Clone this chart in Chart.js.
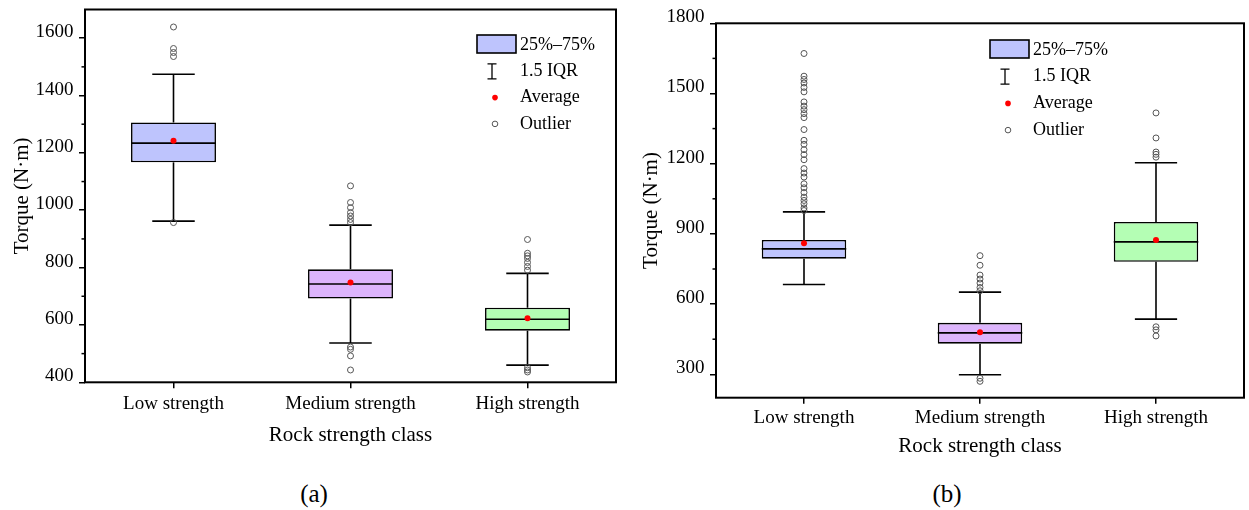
<!DOCTYPE html>
<html>
<head>
<meta charset="utf-8">
<script src="https://cdn.jsdelivr.net/npm/chart.js@4.4.0/dist/chart.umd.min.js"></script>
<style>
  body { margin: 0; background: #fff; width: 1249px; height: 510px; position: relative; overflow: hidden; font-family: 'Liberation Serif', serif; }
  .panel { position: absolute; top: 0; }
  .cap { position: absolute; top: 480px; font-size: 25px; transform: translateX(-50%); color: #000; }
</style>
</head>
<body>
<div class="panel" style="left:0"><canvas id="chartA" width="624" height="460"></canvas></div>
<div class="panel" style="left:624px"><canvas id="chartB" width="625" height="470"></canvas></div>
<div class="cap" style="left:314px">(a)</div>
<div class="cap" style="left:947px">(b)</div>

<script>
/* ---- data ---- */
const categories = ['Low strength', 'Medium strength', 'High strength'];
const boxColors  = ['#bec4fd', '#dcb4fc', '#b4feb4'];

// panel (a)
const aQ1     = [1167, 692, 580];
const aQ3     = [1306, 794, 660];
const aMedian = [1234, 743, 620];
const aMean   = [1242, 748, 623];
const aLowW   = [962, 537, 460];
const aHighW  = [1474, 948, 780];
const aOutliers = [
  [1639, 1564, 1550, 1536, 957],
  [1085, 1027, 1009, 992, 980, 968, 957, 523, 515, 492, 443],
  [898, 850, 841, 832, 818, 804, 791, 451, 443, 436]
];
const aTicks = [400, 600, 800, 1000, 1200, 1400, 1600];
const aMinor = [500, 700, 900, 1100, 1300, 1500];

// panel (b)
const bQ1     = [794, 431, 781];
const bQ3     = [874, 520, 951];
const bMedian = [836, 477, 866];
const bMean   = [860, 480, 874];
const bLowW   = [684, 298, 536];
const bHighW  = [994, 651, 1204];
const bOutliers = [
  [1671, 1574, 1560, 1545, 1526, 1507, 1464, 1446, 1431, 1414, 1397, 1346, 1300, 1283,
   1260, 1239, 1217, 1179, 1160, 1143, 1114, 1097, 1077, 1057, 1043, 1029, 1011, 1000],
  [807, 766, 724, 707, 690, 671, 657, 283, 270],
  [1417, 1310, 1250, 1240, 1228, 503, 490, 464]
];
const bTicks = [300, 600, 900, 1200, 1500, 1800];
const bMinor = [450, 750, 1050, 1350, 1650];

const legendLabels = ['25%\u201375%', '1.5 IQR', 'Average', 'Outlier'];

const FONT = 'Liberation Serif';
const LW = 1.6;      // box and whisker lines
const FRAME = 2;     // axis frame

/* ---- whiskers, medians, frame, minor ticks, legend ---- */
function boxParts(stats, minor, lg) {
  return {
    id: 'boxParts',
    afterDatasetDraw(chart, args) {
      if (args.index !== 0) return;
      const y = chart.scales.y, ctx = chart.ctx;
      ctx.save();
      ctx.strokeStyle = '#000';
      ctx.lineWidth = LW;
      args.meta.data.forEach((bar, i) => {
        const half = bar.width / 2, cap = bar.width / 4;
        const line = (x1, y1, x2, y2) => { ctx.beginPath(); ctx.moveTo(x1, y1); ctx.lineTo(x2, y2); ctx.stroke(); };
        const pHi = y.getPixelForValue(stats.high[i]);
        const pLo = y.getPixelForValue(stats.low[i]);
        const pQ3 = y.getPixelForValue(stats.q3[i]);
        const pQ1 = y.getPixelForValue(stats.q1[i]);
        const pMd = y.getPixelForValue(stats.median[i]);
        line(bar.x, pQ3, bar.x, pHi);
        line(bar.x - cap, pHi, bar.x + cap, pHi);
        line(bar.x, pQ1, bar.x, pLo);
        line(bar.x - cap, pLo, bar.x + cap, pLo);
        line(bar.x - half, pMd, bar.x + half, pMd);
      });
      ctx.restore();
    },
    afterDraw(chart) {
      const { ctx, chartArea: a } = chart;
      const y = chart.scales.y;
      ctx.save();
      ctx.strokeStyle = '#000';
      ctx.lineWidth = FRAME;
      ctx.strokeRect(a.left, a.top, a.right - a.left, a.bottom - a.top);
      ctx.lineWidth = 1.5;
      minor.forEach(v => {
        const p = y.getPixelForValue(v);
        ctx.beginPath(); ctx.moveTo(a.left - 3.5, p); ctx.lineTo(a.left, p); ctx.stroke();
      });

      // legend
      const gap = lg.gap;
      ctx.lineWidth = LW;
      ctx.fillStyle = boxColors[0];
      ctx.fillRect(lg.x, lg.y, 39, 18);
      ctx.strokeRect(lg.x, lg.y, 39, 18);
      const sx = lg.x + 15;
      const r2 = lg.y + 10 + gap;
      ctx.lineWidth = 1.3;
      ctx.beginPath();
      ctx.moveTo(sx - 4.5, r2 - 7.5); ctx.lineTo(sx + 4.5, r2 - 7.5);
      ctx.moveTo(sx, r2 - 7.5); ctx.lineTo(sx, r2 + 7.5);
      ctx.moveTo(sx - 4.5, r2 + 7.5); ctx.lineTo(sx + 4.5, r2 + 7.5);
      ctx.stroke();
      ctx.fillStyle = '#f00';
      ctx.beginPath(); ctx.arc(lg.x + 18, lg.y + 10 + gap * 2, 2.8, 0, Math.PI * 2); ctx.fill();
      ctx.strokeStyle = '#555'; ctx.lineWidth = 1;
      ctx.beginPath(); ctx.arc(lg.x + 18, lg.y + 10 + gap * 3, 2.8, 0, Math.PI * 2); ctx.stroke();

      ctx.fillStyle = '#000';
      ctx.font = '18px "' + FONT + '"';
      ctx.textBaseline = 'middle';
      legendLabels.forEach((t, i) => ctx.fillText(t, lg.x + 43, lg.y + 10 + gap * i));
      ctx.restore();
    }
  };
}

function makeChart(id, s, lay) {
  const outlierPts = [];
  s.out.forEach((vals, i) => vals.forEach(v => outlierPts.push({ x: categories[i], y: v })));

  return new Chart(document.getElementById(id), {
    type: 'bar',
    data: {
      labels: categories,
      datasets: [
        {
          type: 'bar',
          data: s.q1.map((v, i) => [v, s.q3[i]]),
          backgroundColor: boxColors,
          borderColor: '#000',
          borderWidth: LW,
          borderSkipped: false,
          barPercentage: 0.48,
          categoryPercentage: 1,
          order: 3
        },
        {
          type: 'line',
          data: outlierPts,
          showLine: false,
          pointRadius: 3,
          pointBackgroundColor: 'rgba(255,255,255,0)',
          pointBorderColor: '#555',
          pointBorderWidth: 1,
          order: 2
        },
        {
          type: 'line',
          data: s.mean,
          showLine: false,
          pointRadius: 3,
          pointBackgroundColor: '#f00',
          pointBorderWidth: 0,
          order: 1
        }
      ]
    },
    options: {
      responsive: false,
      animation: false,
      layout: { padding: { top: lay.top, right: lay.right, left: 0, bottom: 0 } },
      plugins: { legend: { display: false }, tooltip: { enabled: false } },
      scales: {
        x: {
          grid: { drawOnChartArea: false, offset: false, tickLength: 6, color: '#000', lineWidth: 1.5 },
          border: { display: false },
          ticks: { font: { family: FONT, size: 19 }, color: '#000', padding: lay.xPad },
          title: { display: true, text: 'Rock strength class', font: { family: FONT, size: 21 }, color: '#000',
                   padding: { top: 0, bottom: lay.titlePad } },
          afterFit: sc => { sc.height = lay.xHeight; sc.paddingLeft = 0; sc.paddingRight = 0; }
        },
        y: {
          min: s.min, max: s.max,
          afterBuildTicks: sc => { sc.ticks = s.ticks.map(v => ({ value: v })); },
          grid: { drawOnChartArea: false, tickLength: 6, color: '#000', lineWidth: 1.5 },
          border: { display: false },
          ticks: { font: { family: FONT, size: 19 }, color: '#000', padding: 5.5, labelOffset: -6,
                   callback: v => String(v) },
          title: { display: true, text: 'Torque (N\u00b7m)', font: { family: FONT, size: 21 }, color: '#000',
                   padding: { top: lay.yTitlePad, bottom: 0 } },
          afterFit: sc => { sc.width = lay.yWidth; sc.paddingTop = 0; sc.paddingBottom = 0; }
        }
      }
    },
    plugins: [boxParts(s, s.minor, lay.legend)]
  });
}

makeChart('chartA',
  { q1: aQ1, q3: aQ3, median: aMedian, mean: aMean, low: aLowW, high: aHighW, out: aOutliers,
    min: 400, max: 1700, ticks: aTicks, minor: aMinor },
  { top: 9.5, right: 8, yWidth: 85, xHeight: 77.7, xPad: 4, titlePad: 12, yTitlePad: 9.4,
    legend: { x: 477, y: 35, gap: 26.3 } });

makeChart('chartB',
  { q1: bQ1, q3: bQ3, median: bMedian, mean: bMean, low: bLowW, high: bHighW, out: bOutliers,
    min: 200, max: 1800, ticks: bTicks, minor: bMinor },
  { top: 23.3, right: 5, yWidth: 92, xHeight: 72.3, xPad: 3, titlePad: 10.5, yTitlePad: 14.4,
    legend: { x: 366, y: 40, gap: 26.7 } });
</script>
</body>
</html>
